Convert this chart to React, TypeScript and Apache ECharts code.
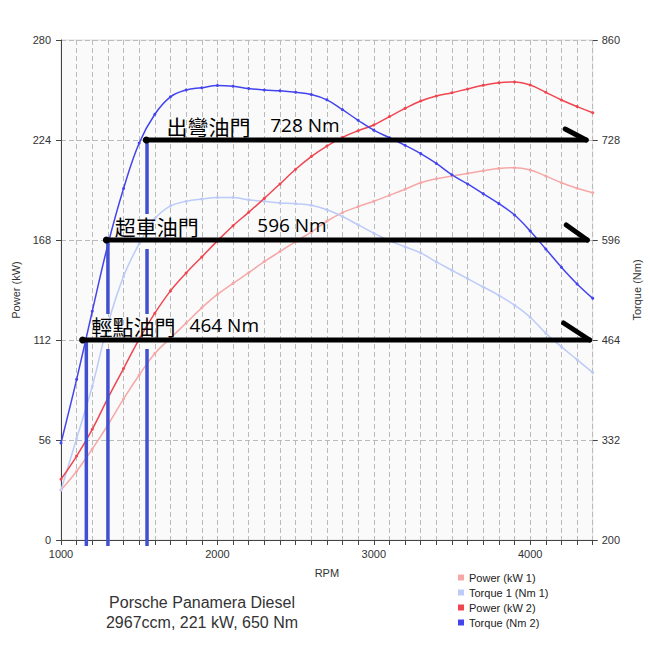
import React, { useEffect, useRef } from 'react';
import * as echarts from 'echarts';

const rpm = [1000, 1100, 1200, 1300, 1400, 1500, 1600, 1700, 1800, 1900, 2000, 2100, 2200, 2300, 2400, 2500, 2600, 2700, 2800, 2900, 3000, 3100, 3200, 3300, 3400, 3500, 3600, 3700, 3800, 3900, 4000, 4100, 4200, 4300, 4400];

const powerKw1 = [28, 38.5, 51, 64.4, 79, 92.4, 104.5, 113, 121.5, 130, 137.5, 143.7, 149.7, 155.9, 161.5, 167.1, 172.4, 178.5, 183.3, 186.7, 189.7, 193, 196.4, 200.1, 202.3, 203.8, 205.3, 206.8, 208.1, 208.5, 207.2, 203.8, 200.1, 197, 194.5];

const torqueNm1 = [266, 334, 403, 485, 548, 591, 624, 641, 647, 650, 652, 652, 649, 647, 645, 644, 642, 636, 627, 616, 605, 595, 587, 579, 567, 556, 545, 534, 523, 510, 494, 473, 455, 438, 421];

const powerKw2 = [34, 47, 62, 79.5, 96, 112.5, 127, 139.5, 149.5, 158.5, 167.5, 176, 183.5, 191.3, 199.4, 207.6, 214.7, 220.6, 225.5, 229.2, 232.4, 237.1, 241.7, 245.8, 248.6, 250.5, 252.6, 254.6, 256.1, 256.5, 254.8, 250.7, 246.4, 242.7, 239.3];

const torqueNm2 = [328, 412, 502, 590, 664, 724, 762, 785, 794, 797, 800, 799, 796, 794, 793, 791, 788, 781, 768, 754, 741, 731, 721, 710, 697, 682, 670, 657, 644, 629, 608, 584, 560, 538, 519];

const seriesNames = ['Power (kW 1)', 'Torque 1 (Nm 1)', 'Power (kW 2)', 'Torque (Nm 2)'];

const powerTicks = [0, 56, 112, 168, 224, 280];
const torqueTicks = [200, 332, 464, 596, 728, 860];

// annotations (throttle levels)
const annLabels = ['輕點油門', '超車油門', '出彎油門'];
const annNm = [464, 596, 728];
const annValueText = ['464 Nm', '596 Nm', '728 Nm'];
const annStartRpm = [1138, 1290, 1545];
const annEndRpm = [4380, 4365, 4358];
const annVertRpm = [1162, 1300, 1550];
const annLabelRpm = [1195, 1344, 1675];
const annValueRpm = [1822, 2255, 2338];

const titleLines = ['Porsche Panamera Diesel', '2967ccm, 221 kW, 650 Nm'];

const COLORS = ['#f6a8a8', '#bccbf8', '#f04650', '#4444ee'];
const ARROW = [[-26, -17], [-21, -15], [-21, -11]];

export default function App() {
  const ref = useRef<HTMLDivElement>(null);
  useEffect(() => {
    document.body.style.margin = '0';
    const chart = echarts.init(ref.current!, null, { renderer: 'svg' });
    const axisFont = { fontSize: 11, fontFamily: "'Liberation Sans', Arial, sans-serif", color: '#333' };
    const dataOf = (arr: number[]) => rpm.map((r, i) => [r, arr[i]]);
    const mkSeries = (idx: number, arr: number[], yAxisIndex: number) => ({
      name: seriesNames[idx],
      type: 'line',
      yAxisIndex,
      data: dataOf(arr),
      smooth: 0.4,
      symbol: 'circle',
      symbolSize: 3,
      showSymbol: true,
      itemStyle: { color: COLORS[idx] },
      lineStyle: { color: COLORS[idx], width: 1.5 },
      emphasis: { disabled: true },
    });
    chart.setOption({
      animation: false,
      grid: {
        left: 61, right: 54, top: 40, bottom: 110,
        show: true, backgroundColor: '#fafafa', borderColor: '#dddddd', borderWidth: 1,
      },
      legend: {
        orient: 'vertical', left: 458, top: 572, padding: 0,
        itemWidth: 6, itemHeight: 6, itemGap: 4, icon: 'rect',
        selectedMode: false,
        data: seriesNames,
        textStyle: { fontSize: 11, fontFamily: "'Liberation Sans', Arial, sans-serif", color: '#222' },
      },
      xAxis: {
        type: 'value', min: 1000, max: 4400, interval: 100,
        name: 'RPM', nameLocation: 'middle', nameGap: 27,
        nameTextStyle: { ...axisFont, fontSize: 11 },
        axisLine: { lineStyle: { color: '#444' } },
        axisTick: { show: true, length: 5, lineStyle: { color: '#444' } },
        axisLabel: { ...axisFont, margin: 8, formatter: (v: number) => (v % 1000 === 0 ? String(v) : '') },
        splitLine: { show: true, lineStyle: { color: '#bbbbbb', type: [5, 3], width: 1 } },
      },
      yAxis: [
        {
          type: 'value', min: 0, max: 280, interval: 56,
          name: 'Power (kW)', nameLocation: 'middle', nameGap: 36, nameRotate: 90,
          nameTextStyle: axisFont,
          axisLine: { show: true, lineStyle: { color: '#444' } },
          axisTick: { show: true, length: 5, lineStyle: { color: '#444' } },
          axisLabel: { ...axisFont, margin: 10, customValues: powerTicks },
          splitLine: { show: true, lineStyle: { color: '#bbbbbb', type: [5, 3], width: 1 } },
        },
        {
          type: 'value', min: 200, max: 860, position: 'right',
          name: 'Torque (Nm)', nameLocation: 'middle', nameGap: 31, nameRotate: 90,
          nameTextStyle: axisFont,
          axisLine: { show: false },
          axisTick: { show: true, length: 5, lineStyle: { color: '#444' }, customValues: torqueTicks },
          axisLabel: { ...axisFont, margin: 9, customValues: torqueTicks },
          splitLine: { show: false },
        },
      ],
      series: [
        mkSeries(0, powerKw1, 0),
        mkSeries(1, torqueNm1, 1),
        mkSeries(2, powerKw2, 0),
        mkSeries(3, torqueNm2, 1),
      ],
    });

    const tp = (r: number, nm: number) => chart.convertToPixel({ seriesIndex: 1 }, [r, nm]) as number[];
    const bottomY = (chart.convertToPixel({ seriesIndex: 0 }, [1000, 0]) as number[])[1] + 6;
    const elements: any[] = [];
    const rowY = annNm.map((nm) => tp(1000, nm)[1]);
    const cjkFont = "'Noto Sans CJK TC', 'Noto Sans CJK SC', sans-serif";
    const numFont = "'Open Sans', 'Noto Sans', sans-serif";

    annNm.forEach((nm, i) => {
      const y = rowY[i];
      const vx = tp(annVertRpm[i], nm)[0];
      // vertical blue line split around label rows below it
      const gaps = rowY.filter((ry, j) => j < i).map((ry) => [ry - 26, ry + 9]).sort((a, b) => a[0] - b[0]);
      let cur = y;
      gaps.forEach(([g0, g1]) => {
        elements.push({ type: 'line', z: 90, silent: true, shape: { x1: vx, y1: cur, x2: vx, y2: g0 }, style: { stroke: '#4050d0', lineWidth: 3.5 } });
        cur = g1;
      });
      elements.push({ type: 'line', z: 90, silent: true, shape: { x1: vx, y1: cur, x2: vx, y2: bottomY }, style: { stroke: '#4050d0', lineWidth: 3.5 } });

      const sx = tp(annStartRpm[i], nm)[0];
      const ex = tp(annEndRpm[i], nm)[0];
      elements.push({ type: 'line', z: 100, silent: true, shape: { x1: sx, y1: y, x2: ex, y2: y }, style: { stroke: '#000', lineWidth: 5, lineCap: 'round' } });
      elements.push({ type: 'line', z: 100, silent: true, shape: { x1: ex + ARROW[i][0], y1: y + ARROW[i][1], x2: ex, y2: y }, style: { stroke: '#000', lineWidth: 5, lineCap: 'round' } });
      elements.push({ type: 'circle', z: 101, silent: true, shape: { cx: sx, cy: y, r: 3.5 }, style: { fill: '#000' } });

      const lx = tp(annLabelRpm[i], nm)[0];
      const nx = tp(annValueRpm[i], nm)[0];
      elements.push({ type: 'text', z: 95, silent: true, style: { x: lx, y: y - 14, text: annLabels[i], fontSize: 21, fontFamily: cjkFont, fill: '#000', verticalAlign: 'middle', align: 'left' } });
      elements.push({ type: 'text', z: 95, silent: true, style: { x: nx, y: y - 15, text: annValueText[i], fontSize: 19, fontFamily: numFont, fill: '#000', verticalAlign: 'middle', align: 'left' } });
    });

    titleLines.forEach((t, i) => {
      elements.push({ type: 'text', z: 50, silent: true, style: { x: 202, y: 602 + i * 20, text: t, fontSize: 16, fontFamily: "'Liberation Sans', Arial, sans-serif", fill: '#333', align: 'center', verticalAlign: 'middle' } });
    });

    chart.setOption({ graphic: { elements } });
    return () => chart.dispose();
  }, []);
  return <div ref={ref} style={{ width: 650, height: 650 }} />;
}
